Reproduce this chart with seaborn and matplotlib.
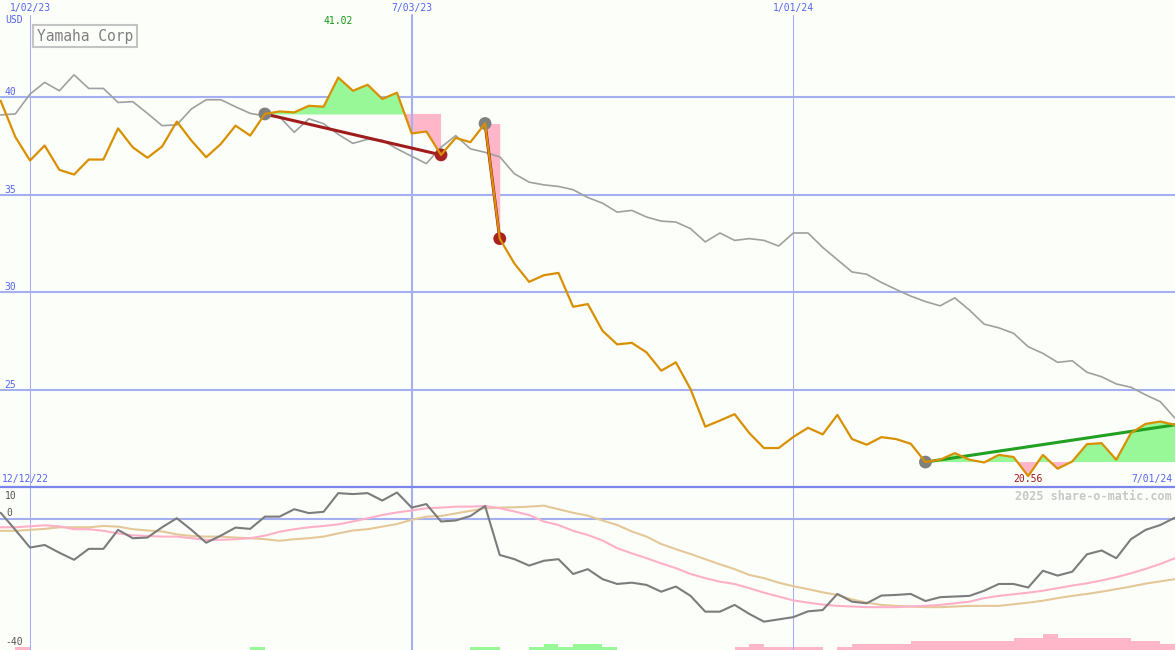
import numpy as np
import pandas as pd
import matplotlib
matplotlib.use('Agg')
import matplotlib.pyplot as plt
import matplotlib.transforms as mtransforms
import seaborn as sns

# weekly points 12/19/22 .. 7/01/24
dates = pd.date_range('2022-12-19', periods=81, freq='7D')

# Yamaha Corp close (USD)
price = [39.83, 37.97, 36.76, 37.53, 36.28, 36.04, 36.81, 36.81, 38.41, 37.44,
         36.90, 37.48, 38.76, 37.78, 36.93, 37.61, 38.55, 38.04, 39.15, 39.28,
         39.23, 39.57, 39.52, 41.02, 40.34, 40.65, 39.92, 40.24, 38.15, 38.25,
         37.05, 37.92, 37.70, 38.66, 32.75, 31.47, 30.53, 30.87, 30.99, 29.25,
         29.39, 28.02, 27.32, 27.40, 26.91, 25.97, 26.40, 25.02, 23.10, 23.41,
         23.74, 22.77, 22.00, 22.00, 22.57, 23.04, 22.70, 23.70, 22.46, 22.17,
         22.56, 22.46, 22.22, 21.28, 21.40, 21.74, 21.40, 21.26, 21.65, 21.54,
         20.56, 21.65, 20.94, 21.31, 22.20, 22.25, 21.40, 22.77, 23.24, 23.36,
         23.19]

# comparison index, rebased
benchmark = [39.10, 39.15, 40.17, 40.77, 40.34, 41.16, 40.46, 40.46, 39.74, 39.78,
             39.18, 38.55, 38.59, 39.41, 39.88, 39.88, 39.52, 39.18, 39.05, 39.00,
             38.21, 38.90, 38.65, 38.10, 37.64, 37.85, 37.80, 37.36, 36.98, 36.60,
             37.44, 38.04, 37.36, 37.18, 36.95, 36.08, 35.65, 35.51, 35.43, 35.26,
             34.86, 34.57, 34.11, 34.20, 33.86, 33.65, 33.60, 33.26, 32.58, 33.04,
             32.66, 32.75, 32.66, 32.37, 33.04, 33.04, 32.30, 31.67, 31.04, 30.92,
             30.50, 30.14, 29.80, 29.52, 29.30, 29.71, 29.08, 28.36, 28.17, 27.89,
             27.20, 26.86, 26.40, 26.48, 25.89, 25.66, 25.29, 25.12, 24.73, 24.38,
             23.53]

# relative performance panel (%)
rel_perf = [2.0, -3.3, -8.8, -8.0, -10.4, -12.6, -9.2, -9.2, -3.3, -5.9,
            -5.7, -2.5, 0.3, -3.3, -7.3, -5.1, -2.6, -3.0, 0.8, 0.8,
            3.1, 1.9, 2.3, 8.1, 7.8, 8.1, 5.8, 8.3, 3.6, 4.7,
            -0.7, -0.4, 1.0, 4.1, -11.1, -12.4, -14.4, -12.9, -12.4, -17.0,
            -15.5, -18.6, -20.1, -19.7, -20.4, -22.5, -20.9, -23.8, -28.7, -28.7,
            -26.6, -29.4, -31.8, -31.1, -30.4, -28.6, -28.2, -23.2, -25.6, -26.1,
            -23.7, -23.5, -23.2, -25.4, -24.2, -24.0, -23.8, -22.2, -20.1, -20.1,
            -21.2, -16.0, -17.5, -16.3, -10.9, -9.7, -12.1, -6.2, -3.3, -1.8,
            0.5]

rel_fast = [-2.5, -2.5, -2.2, -1.9, -2.2, -3.1, -3.1, -3.6, -4.4, -5.0,
            -5.2, -5.4, -5.4, -5.9, -6.4, -6.4, -6.2, -5.9, -5.1, -3.9,
            -3.1, -2.5, -2.1, -1.6, -0.7, 0.3, 1.3, 2.1, 2.7, 3.4,
            3.6, 3.9, 3.9, 4.1, 3.4, 2.4, 1.3, -0.7, -1.8, -3.6,
            -4.9, -6.6, -9.0, -10.6, -12.1, -13.7, -15.2, -17.0, -18.3, -19.4,
            -20.1, -21.4, -22.8, -24.0, -25.2, -25.9, -26.5, -26.9, -27.1, -27.3,
            -27.3, -27.3, -27.1, -26.9, -26.6, -26.1, -25.6, -24.5, -23.8, -23.3,
            -22.8, -22.2, -21.4, -20.6, -19.9, -19.0, -18.0, -16.8, -15.4, -13.9,
            -12.1]

rel_slow = [-3.6, -3.6, -3.3, -3.0, -2.5, -2.5, -2.5, -2.1, -2.3, -3.1,
            -3.5, -3.8, -4.7, -5.2, -5.4, -5.4, -5.7, -5.9, -6.2, -6.7,
            -6.2, -5.9, -5.4, -4.4, -3.5, -3.1, -2.3, -1.5, -0.2, 0.8,
            1.0, 1.8, 2.6, 3.4, 3.6, 3.7, 3.9, 4.2, 3.1, 2.0,
            1.1, -0.4, -1.8, -3.8, -5.4, -7.7, -9.3, -10.8, -12.4, -14.0,
            -15.5, -17.3, -18.3, -19.7, -20.8, -21.7, -22.7, -23.5, -24.9, -25.9,
            -26.6, -26.9, -27.1, -27.3, -27.3, -27.1, -26.9, -26.9, -26.9, -26.4,
            -25.9, -25.3, -24.5, -23.8, -23.2, -22.5, -21.7, -20.9, -20.0, -19.3,
            -18.6]

# little bars along the bottom (+ green, - pink)
bar_weeks = [1, 17, 32, 33, 36, 37, 38, 39, 40, 41, 50, 51, 52, 53, 54, 55, 57,
             58, 59, 60, 61, 62, 63, 64, 65, 66, 67, 68, 69, 70, 71, 72, 73, 74,
             75, 76, 77, 78, 79]
bar_levels = [-1, 1, 1, 1, 1, 2, 1, 2, 2, 1, -1, -2, -1, -1, -1, -1, -1,
              -2, -2, -2, -2, -3, -3, -3, -3, -3, -3, -3, -4, -4, -5, -4, -4, -4,
              -4, -4, -3, -3, -2]

# trade signals: start week, end week, closed?
sig_start = [18, 33, 63]
sig_end = [30, 34, 80]
sig_closed = [True, True, False]

price_grid = [25, 30, 35, 40]
price_labels = ['25', '30', '35', '40']
date_marks = pd.to_datetime(['2023-01-02', '2023-07-03', '2024-01-01'])
date_labels = ['1/02/23', '7/03/23', '1/01/24']
date_widths = [0.75, 1.5, 0.75]

BG = '#fcfefa'
GRID = '#a4b0f0'
BLUE_TXT = '#5565f0'
ORANGE = '#d99000'
GREEN_FILL = '#98f898'
PINK_FILL = '#ffb6c8'

sns.set_theme(style='white')
plt.rcParams['font.family'] = ['DejaVu Sans Mono', 'DejaVu Sans']

W, H = 1175, 650
fig = plt.figure(figsize=(W / 100, H / 100), dpi=100, facecolor=BG)
top_h = 487
ax1 = fig.add_axes([0, 1 - top_h / H, 1, top_h / H])
ax2 = fig.add_axes([0, 0, 1, 1 - top_h / H])

xlim = (pd.Timestamp('2022-12-18 16:40'), pd.Timestamp('2024-07-01'))
for ax in (ax1, ax2):
    ax.set_facecolor(BG)
    ax.set_xlim(*xlim)
    ax.set_xticks([])
    ax.set_yticks([])
    for sp in ax.spines.values():
        sp.set_visible(False)

ax1.set_ylim(20, 45)
ax2.set_ylim(-40.6, 10)

df = pd.DataFrame({'date': dates, 'price': price, 'bench': benchmark,
                   'rel': rel_perf, 'fast': rel_fast, 'slow': rel_slow})


def fig_px(x, y):
    return x / W, 1 - y / H


# ---- top panel ----
for v in price_grid:
    ax1.axhline(v, color=GRID, lw=1.5, zorder=0.5)
for d, w in zip(date_marks, date_widths):
    ax1.axvline(d, ymin=0, ymax=1 - 15 / top_h, color=GRID, lw=w, zorder=1.5)

for s, e in zip(sig_start, sig_end):
    xs = dates[s:e + 1]
    ys = np.array(price[s:e + 1])
    base = price[s]
    ax1.fill_between(xs, ys, base, where=ys >= base, interpolate=True,
                     color=GREEN_FILL, lw=0, zorder=1)
    ax1.fill_between(xs, ys, base, where=ys <= base, interpolate=True,
                     color=PINK_FILL, lw=0, zorder=1)

sns.lineplot(data=df, x='date', y='bench', ax=ax1, color='#a0a0a0', lw=1.2, zorder=2)

for s, e, closed in zip(sig_start, sig_end, sig_closed):
    sns.lineplot(x=[dates[s], dates[e]], y=[price[s], price[e]], ax=ax1,
                 color='#a01c1c' if closed else '#22a022', lw=2.2, zorder=3)

sns.scatterplot(x=dates[sig_start], y=[price[i] for i in sig_start], ax=ax1,
                color='#808080', s=85, edgecolor='none', zorder=4)
closed_ends = [e for e, c in zip(sig_end, sig_closed) if c]
sns.scatterplot(x=dates[closed_ends], y=[price[i] for i in closed_ends], ax=ax1,
                color='#a82222', s=85, edgecolor='none', zorder=4)

sns.lineplot(data=df, x='date', y='price', ax=ax1, color=ORANGE, lw=1.6, zorder=5)

# ---- bottom panel ----
ax2.axhline(0, color=GRID, lw=1.5, zorder=0.5)
ax2.axhline(10, color='#7a86ec', lw=1.6, zorder=6, clip_on=False)
for d, w in zip(date_marks, date_widths):
    ax2.axvline(d, color=GRID, lw=w, zorder=1.5)

lo = ax2.get_ylim()[0]
bar_x = dates[bar_weeks]
bar_h = [abs(v) * 0.97 for v in bar_levels]
bar_c = [GREEN_FILL if v > 0 else PINK_FILL for v in bar_levels]
ax2.bar(bar_x, bar_h, width=7, bottom=lo, align='edge', color=bar_c, lw=0, zorder=1)

sns.lineplot(data=df, x='date', y='slow', ax=ax2, color='#e4c898', lw=1.5, zorder=2)
sns.lineplot(data=df, x='date', y='fast', ax=ax2, color='#ffb0c8', lw=1.5, zorder=3)
sns.lineplot(data=df, x='date', y='rel', ax=ax2, color='#7c7c7c', lw=1.5, zorder=4)

for ax in (ax1, ax2):
    ax.set_xlabel('')
    ax.set_ylabel('')

# ---- text ----
blend1 = mtransforms.blended_transform_factory(ax1.transData, ax1.transAxes)
ylab1 = mtransforms.blended_transform_factory(ax1.transAxes, ax1.transData)
for d, lab in zip(date_marks, date_labels):
    ax1.text(d, 1 - 8 / top_h, lab, transform=blend1, ha='center', va='center',
             fontsize=7, color=BLUE_TXT, zorder=7)
for v, lab in zip(price_grid, price_labels):
    ax1.text(0.004, v, lab, transform=ylab1, ha='left', va='bottom',
             fontsize=7, color=BLUE_TXT, zorder=7)

fig.text(*fig_px(5, 20), 'USD', ha='left', va='center', fontsize=7, color=BLUE_TXT)
fig.text(*fig_px(2, 479), '12/12/22', ha='left', va='center', fontsize=7, color=BLUE_TXT)
fig.text(*fig_px(1172, 479), '7/01/24', ha='right', va='center', fontsize=7, color=BLUE_TXT)
fig.text(*fig_px(37, 36), 'Yamaha Corp', ha='left', va='center', fontsize=10.5,
         color='#808080',
         bbox=dict(boxstyle='square,pad=0.25', fc=BG, ec='#c4c4c4', lw=1.5))

i_hi = int(np.argmax(price))
i_lo = int(np.argmin(price))
ax1.text(dates[i_hi], 1 - 21 / top_h, f'{price[i_hi]:.2f}', transform=blend1,
         ha='center', va='center', fontsize=7, color='#109a10', zorder=7)
ax1.text(dates[i_lo], 1 - 479 / top_h, f'{price[i_lo]:.2f}', transform=blend1,
         ha='center', va='center', fontsize=7, color='#a01818', zorder=7)

fig.text(*fig_px(1172, 496), '2025 share-o-matic.com', ha='right', va='center',
         fontsize=8.5, fontweight='bold', color='#c8c8c8')
fig.text(*fig_px(5, 496), '10', ha='left', va='center', fontsize=7, color='#555555')
fig.text(*fig_px(6, 513), '0', ha='left', va='center', fontsize=7, color='#555555')
fig.text(*fig_px(5, 642), '-40', ha='left', va='center', fontsize=7, color='#555555')

fig.savefig('out.png', dpi=100, facecolor=BG)
